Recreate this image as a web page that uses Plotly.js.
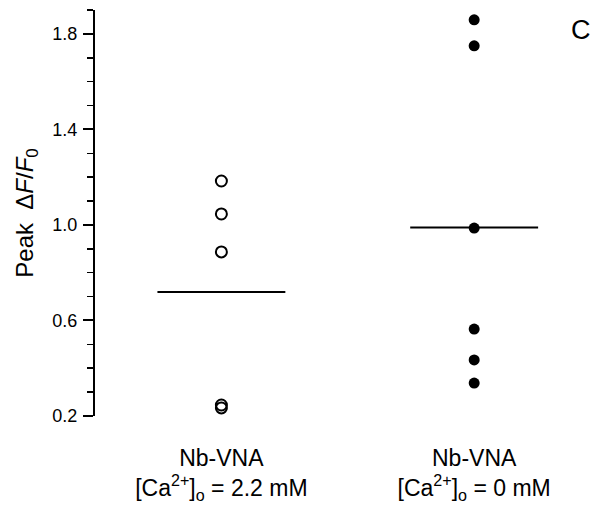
<!DOCTYPE html>
<html><head><meta charset="utf-8">
<script src="https://cdn.plot.ly/plotly-3.0.1.min.js"></script>
<style>body{margin:0;background:#fff}#chart{width:600px;height:525px}</style>
</head><body><div id="chart"></div>
<script>
const categories = ["Nb-VNA<br>[Ca<sup>2+</sup>]<sub>o</sub> = 2.2 mM", "Nb-VNA<br>[Ca<sup>2+</sup>]<sub>o</sub> = 0 mM"];
const catPos = [1, 2];
const ca22Values = [1.184, 1.046, 0.887, 0.246, 0.234];
const ca0Values = [1.859, 1.750, 0.987, 0.564, 0.435, 0.338];
const yTickVals = [0.2, 0.6, 1.0, 1.4, 1.8];

const mean = a => a.reduce((s, v) => s + v, 0) / a.length;
const halfW = 0.253;
const font = "Liberation Sans, Arial, sans-serif";

const traces = [
  {x: ca22Values.map(() => catPos[0]), y: ca22Values, mode: "markers", type: "scatter",
   marker: {symbol: "circle-open", size: 11, color: "#000", line: {width: 2, color: "#000"}}},
  {x: ca0Values.map(() => catPos[1]), y: ca0Values, mode: "markers", type: "scatter",
   marker: {symbol: "circle", size: 11, color: "#000"}},
  {x: [catPos[0] - halfW, catPos[0] + halfW], y: [mean(ca22Values), mean(ca22Values)], mode: "lines",
   line: {color: "#000", width: 2}},
  {x: [catPos[1] - halfW, catPos[1] + halfW], y: [mean(ca0Values), mean(ca0Values)], mode: "lines",
   line: {color: "#000", width: 2}}
];

const layout = {
  width: 600, height: 525,
  margin: {l: 95, r: 50, t: 10, b: 109},
  showlegend: false,
  paper_bgcolor: "#fff", plot_bgcolor: "#fff",
  font: {family: font, color: "#000"},
  xaxis: {
    range: [0.5, 2.3], showgrid: false, zeroline: false, showline: false,
    tickmode: "array", tickvals: catPos, ticktext: categories, ticks: "",
    tickfont: {size: 23, family: font}, ticklabelstandoff: 26, fixedrange: true
  },
  yaxis: {
    range: [0.2, 1.9], showgrid: false, zeroline: false, showline: true,
    linecolor: "#000", linewidth: 2,
    tickmode: "array", tickvals: yTickVals, ticktext: yTickVals.map(v => v.toFixed(1)),
    ticks: "outside", ticklen: 10, tickwidth: 2, tickcolor: "#000",
    tickfont: {size: 18, family: font}, ticklabelstandoff: 2,
    minor: {dtick: 0.1, tick0: 0.2, ticks: "outside", ticklen: 6, tickwidth: 1.5, tickcolor: "#000"},
    title: {text: "Peak  Δ<i>F</i>/<i>F</i><sub>0</sub>", font: {size: 24, family: font}, standoff: 12}
  },
  annotations: [{text: "C", xref: "paper", yref: "paper", x: 1.042, y: 0.95, xanchor: "left", yanchor: "middle",
                 showarrow: false, font: {size: 27, family: font, color: "#000"}}]
};

Plotly.newPlot("chart", traces, layout, {displayModeBar: false, staticPlot: true});
</script></body></html>
